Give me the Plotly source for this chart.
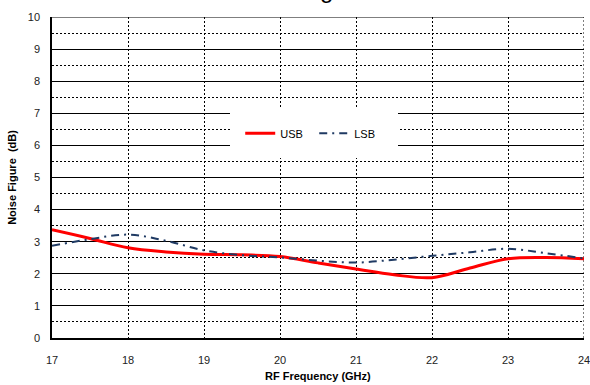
import plotly.graph_objects as go

# RF frequency sweep (GHz) and measured noise figure (dB) per sideband
freq_ghz = [17, 17.5, 18, 18.5, 19, 19.5, 20, 20.5, 21, 21.5, 22, 22.5, 23, 23.5, 24]
usb_nf = [3.37, 3.10, 2.81, 2.68, 2.61, 2.59, 2.54, 2.34, 2.15, 1.97, 1.88, 2.18, 2.47, 2.51, 2.47]
lsb_nf = [2.87, 3.08, 3.22, 3.03, 2.73, 2.58, 2.51, 2.41, 2.35, 2.44, 2.56, 2.67, 2.78, 2.64, 2.48]

x_ticks = [17, 18, 19, 20, 21, 22, 23, 24]
y_ticks = [0, 1, 2, 3, 4, 5, 6, 7, 8, 9, 10]

FONT = "Arial, Liberation Sans, sans-serif"
DOT = "2px,2px"

fig = go.Figure()
fig.add_trace(go.Scatter(
    x=freq_ghz, y=usb_nf, name="USB", mode="lines",
    line=dict(color="#ff0000", width=3, shape="spline", smoothing=1.0),
))
fig.add_trace(go.Scatter(
    x=freq_ghz, y=lsb_nf, name="LSB", mode="lines",
    line=dict(color="#1f3a63", width=2, dash="8px,5px,2px,5px",
              shape="spline", smoothing=1.0),
))

fig.update_layout(
    width=590, height=385,
    margin=dict(l=52, r=6, t=17, b=47),
    paper_bgcolor="white", plot_bgcolor="white",
    font=dict(family=FONT, size=11, color="#222"),
    showlegend=True,
    legend=dict(
        orientation="h", x=0.335, y=0.714, xanchor="left", yanchor="top",
        bgcolor="white", bordercolor="white", borderwidth=10,
        font=dict(size=11, color="#000"), itemwidth=30,
        entrywidth=29, entrywidthmode="pixels",
    ),
    annotations=[
        dict(text="Noise Figure", xref="paper", yref="paper",
             x=0.5, y=1.0, xshift=-18, yshift=28, xanchor="center", yanchor="middle",
             showarrow=False, font=dict(size=24, color="#000")),
        # x-axis title
        dict(text="<b>RF Frequency (GHz)</b>", xref="paper", yref="paper",
             x=0.5, y=0.0, yshift=-38, xanchor="center", yanchor="middle",
             showarrow=False, font=dict(size=11, color="#000")),
    ],
    # dotted grid line along the right edge of the plot (x = last tick)
    shapes=[dict(
        type="line", xref="x", yref="paper", x0=x_ticks[-1], x1=x_ticks[-1],
        y0=0, y1=1, line=dict(color="#000", width=1, dash=DOT), layer="below",
    )],
)

fig.update_xaxes(
    range=[17, 24], tickvals=x_ticks, ticks="", automargin=False,
    showgrid=True, gridcolor="#000", gridwidth=1, griddash=DOT,
    showline=True, linecolor="#000", linewidth=1.5, mirror=False,
    zeroline=False, ticklabelstandoff=11, ticklabeloverflow="allow",
)
fig.update_yaxes(
    range=[0, 10], tickvals=y_ticks, ticks="", automargin=False,
    showgrid=True, gridcolor="#000", gridwidth=1,
    minor=dict(dtick=0.5, showgrid=True, gridcolor="#000", gridwidth=1, griddash=DOT),
    showline=True, linecolor="#000", linewidth=1.5,
    zeroline=False, ticklabelstandoff=8, ticklabeloverflow="allow",
    title=dict(text="<b>Noise Figure  (dB)</b>", font=dict(size=11, color="#000"),
               standoff=9),
)

# solid top border at y = 10
fig.add_shape(type="line", xref="paper", yref="y", x0=0, x1=1,
              y0=y_ticks[-1], y1=y_ticks[-1], line=dict(color="#000", width=1),
              layer="below")

fig.write_html("out.html")
